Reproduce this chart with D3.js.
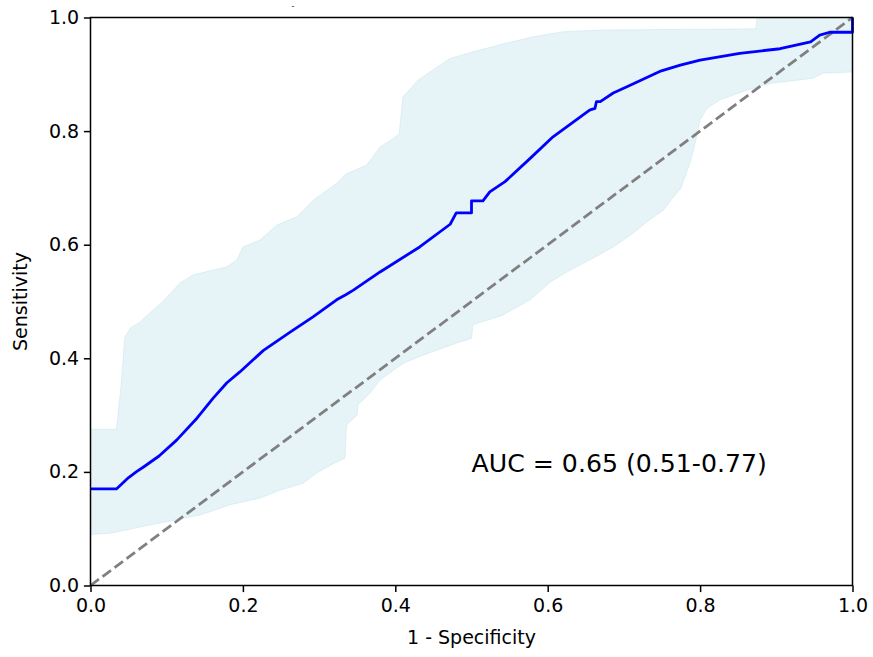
<!DOCTYPE html>
<meta charset="utf-8">
<script src="https://d3js.org/d3.v7.min.js"></script>
<style>
  body { margin: 0; background: #fff; }
  text { font-family: "DejaVu Sans", sans-serif; }
</style>
<div id="roc"></div>
<script>
// mean ROC curve [1 - specificity, sensitivity]
const meanCurve = [
  [0, 0.17], [0.034, 0.17], [0.042, 0.18], [0.05, 0.19], [0.06, 0.2], [0.071, 0.21],
  [0.09, 0.228], [0.113, 0.256], [0.14, 0.295], [0.161, 0.33], [0.179, 0.357],
  [0.196, 0.376], [0.227, 0.414], [0.262, 0.446], [0.292, 0.473], [0.323, 0.503],
  [0.335, 0.512], [0.345, 0.52], [0.38, 0.552], [0.432, 0.596], [0.472, 0.636],
  [0.48, 0.656], [0.5, 0.656], [0.5, 0.677], [0.515, 0.677], [0.524, 0.693],
  [0.544, 0.711], [0.577, 0.752], [0.607, 0.79], [0.655, 0.837], [0.662, 0.84],
  [0.664, 0.852], [0.669, 0.852], [0.686, 0.867], [0.704, 0.878], [0.747, 0.905],
  [0.774, 0.916], [0.8, 0.925], [0.852, 0.937], [0.905, 0.945], [0.945, 0.957],
  [0.957, 0.969], [0.97, 0.974], [1, 0.974], [1, 1]
];

// upper edge of the confidence band
const upperBand = [
  [0, 0.275], [0.034, 0.275], [0.04, 0.35], [0.045, 0.437], [0.052, 0.453],
  [0.065, 0.464], [0.078, 0.48], [0.095, 0.5], [0.117, 0.532], [0.135, 0.547],
  [0.179, 0.561], [0.192, 0.573], [0.2, 0.596], [0.222, 0.608], [0.245, 0.635],
  [0.271, 0.649], [0.293, 0.679], [0.323, 0.708], [0.336, 0.725], [0.362, 0.74],
  [0.38, 0.772], [0.395, 0.785], [0.405, 0.795], [0.41, 0.86], [0.43, 0.89],
  [0.455, 0.913], [0.472, 0.928], [0.503, 0.94], [0.546, 0.955], [0.581, 0.966],
  [0.62, 0.975], [0.669, 0.978], [0.873, 0.98], [0.875, 1.0], [1, 1]
];

// lower edge of the confidence band
const lowerBand = [
  [0, 0.09], [0.026, 0.092], [0.091, 0.11], [0.144, 0.124], [0.183, 0.142],
  [0.223, 0.154], [0.249, 0.168], [0.279, 0.18], [0.297, 0.198], [0.319, 0.215],
  [0.334, 0.224], [0.336, 0.283], [0.35, 0.3], [0.351, 0.318], [0.367, 0.339],
  [0.38, 0.362], [0.41, 0.391], [0.437, 0.406], [0.481, 0.427], [0.5, 0.435],
  [0.502, 0.459], [0.541, 0.476], [0.577, 0.503], [0.603, 0.534], [0.629, 0.555],
  [0.655, 0.573], [0.686, 0.596], [0.712, 0.62], [0.73, 0.64], [0.752, 0.661],
  [0.765, 0.684], [0.775, 0.7], [0.787, 0.745], [0.793, 0.775], [0.8, 0.82],
  [0.809, 0.84], [0.826, 0.855], [0.861, 0.872], [0.892, 0.884], [0.949, 0.893],
  [0.961, 0.902], [1, 0.904]
];

const chanceLine = [[0, 0], [1, 1]];
const xTicks = [0, 0.2, 0.4, 0.6, 0.8, 1.0];
const yTicks = [0, 0.2, 0.4, 0.6, 0.8, 1.0];
const aucLabel = "AUC = 0.65 (0.51-0.77)";

const margin = {top: 17.5, right: 20.5, bottom: 71.5, left: 90.5},
    width = 873 - margin.left - margin.right,
    height = 657 - margin.top - margin.bottom;

const svg = d3.select("#roc")
  .append("svg")
    .attr("width", 873)
    .attr("height", 657)
  .append("g")
    .attr("transform", `translate(${margin.left},${margin.top})`);

const x = d3.scaleLinear().domain([0, 1]).range([0, width]);
const y = d3.scaleLinear().domain([0, 1]).range([height, 0]);

const line = d3.line().x(d => x(d[0])).y(d => y(d[1]));

// confidence band: upper edge forward, lower edge back
svg.append("path")
  .datum(upperBand.concat(lowerBand.slice().reverse()))
  .attr("fill", "#add8e6")
  .attr("fill-opacity", 0.3)
  .attr("stroke", "#add8e6")
  .attr("stroke-opacity", 0.3)
  .attr("stroke-width", 1)
  .attr("d", d => line(d) + "Z");

// chance diagonal
svg.append("path")
  .datum(chanceLine)
  .attr("fill", "none")
  .attr("stroke", "gray")
  .attr("stroke-width", 2.8)
  .attr("stroke-dasharray", "10.5,4.5")
  .attr("d", line);

// mean curve
svg.append("path")
  .datum(meanCurve)
  .attr("fill", "none")
  .attr("stroke", "blue")
  .attr("stroke-width", 2.8)
  .attr("stroke-linejoin", "round")
  .attr("d", line);

// axes
const xAxis = svg.append("g")
  .attr("transform", `translate(0,${height})`)
  .call(d3.axisBottom(x).tickValues(xTicks).tickFormat(d3.format(".1f")).tickSizeOuter(0).tickSize(6.6).tickPadding(6.4));
const yAxis = svg.append("g")
  .call(d3.axisLeft(y).tickValues(yTicks).tickFormat(d3.format(".1f")).tickSizeOuter(0).tickSize(6.6).tickPadding(4.8));
[xAxis, yAxis].forEach(a => {
  a.select(".domain").remove();
  a.selectAll("text").attr("font-size", 19).attr("fill", "#000").attr("font-family", "DejaVu Sans");
  a.selectAll("line").attr("stroke", "#000").attr("stroke-width", 1.5);
});

// frame
svg.append("rect")
  .attr("width", width)
  .attr("height", height)
  .attr("fill", "none")
  .attr("stroke", "#000")
  .attr("stroke-width", 1.5);

svg.append("text")
  .attr("x", x(0.5))
  .attr("y", y(0.2))
  .attr("font-size", 25.2)
  .attr("fill", "#000")
  .text(aucLabel);

svg.append("text")
  .attr("x", width / 2)
  .attr("y", 644 - margin.top)
  .attr("text-anchor", "middle")
  .attr("font-size", 19)
  .attr("fill", "#000")
  .text("1 - Specificity");

svg.append("text")
  .attr("transform", `translate(${27 - margin.left},${height / 2}) rotate(-90)`)
  .attr("text-anchor", "middle")
  .attr("font-size", 19)
  .attr("fill", "#000")
  .text("Sensitivity");

// clipped title remnant
svg.append("text")
  .attr("x", 293 - margin.left)
  .attr("y", -9)
  .attr("text-anchor", "middle")
  .attr("font-size", 8)
  .attr("fill", "#222")
  .text("-");
</script>
